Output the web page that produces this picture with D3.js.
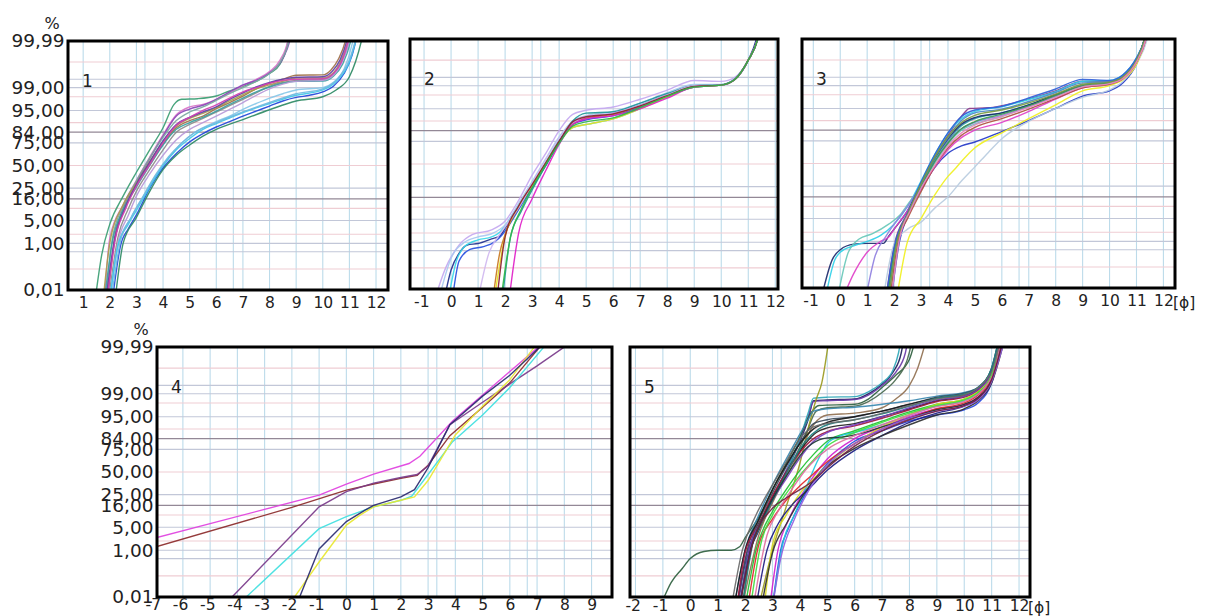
<!DOCTYPE html>
<html><head><meta charset="utf-8">
<script src="https://cdn.jsdelivr.net/npm/d3@7"></script>
<style>
body{margin:0;background:#fff}
svg{display:block}
text{font-family:"DejaVu Sans",Verdana,sans-serif;fill:#222}
</style>
</head><body>
<svg id="c" width="1206" height="616"></svg>
<script>
// ---------------- DATA ----------------
// y axis (probability scale, %)
const yTickPcts   = [99.99, 99, 95, 84, 75, 50, 25, 16, 5, 1, 0.01];
const yTickLabels = ["99,99","99,00","95,00","84,00","75,00","50,00","25,00","16,00","5,00","1,00","0,01"];
const hGridPcts   = [0.1, 0.5, 1, 2, 5, 10, 16, 25, 50, 75, 84, 90, 95, 98, 99, 99.5, 99.9];
const vGridExtraPhi = [3.32, 6.64];

const p1Ticks = [1,2,3,4,5,6,7,8,9,10,11,12];
const p2Ticks = [-1,0,1,2,3,4,5,6,7,8,9,10,11,12];
const p3Ticks = [-1,0,1,2,3,4,5,6,7,8,9,10,11,12];
const p4Ticks = [-7,-6,-5,-4,-3,-2,-1,0,1,2,3,4,5,6,7,8,9];
const p5Ticks = [-2,-1,0,1,2,3,4,5,6,7,8,9,10,11,12];
const panelNames = ["1","2","3","4","5"];

// curves: [phi, cumulative %]
const p1Curves = [
 [[1.45,0.003],[1.7,0.4],[2,4],[2.5,18],[3,42],[3.5,68],[4,87],[4.4,96.5],[4.7,97.6],[5.3,97.7],[6,98.1],[6.5,98.7],[7,99.1],[7.5,99.4],[8,99.7],[8.4,99.88],[8.65,99.98],[8.8,99.999]],
 [[1.8,0.003],[2,1.5],[2.5,12],[3,33],[3.5,60],[4,82],[4.5,93.5],[5,96],[5.5,96.6],[6,97.6],[6.5,98.5],[7,99.15],[7.5,99.5],[8,99.75],[8.4,99.92],[8.7,99.992],[8.8,99.999]],
 [[1.9,0.003],[2.2,2],[2.5,10],[3,31],[3.5,58],[4,81],[4.5,93],[5,95.4],[5.5,96.4],[6,97.6],[6.5,98.6],[7,99.2],[7.5,99.45],[8,99.72],[8.5,99.93],[8.8,99.994],[8.9,99.999]],
 [[1.85,0.003],[2.1,1.5],[2.5,11],[3,32],[3.5,59],[4,80],[4.5,91],[5,94.5],[5.5,96],[6,97.4],[6.5,98.4],[7,99.0],[7.5,99.4],[8,99.7],[8.4,99.9],[8.75,99.993],[8.85,99.999]],
 [[1.9,0.003],[2.2,1.5],[2.6,12],[3,28],[3.5,52],[4,74],[4.5,87],[5,91],[5.5,93],[6,95.5],[6.5,97],[7,98.1],[7.5,98.9],[8,99.3],[8.5,99.5],[9,99.65],[10,99.66],[10.3,99.78],[10.6,99.93],[10.85,99.99],[11,99.999]],
 [[1.75,0.003],[2,1],[2.5,12],[3,30],[3.5,55],[4,76],[4.5,88],[5,92],[5.5,94],[6,95.8],[6.5,97.3],[7,98.3],[7.5,98.9],[8,99.2],[8.5,99.4],[9,99.55],[10,99.55],[10.4,99.72],[10.7,99.92],[10.95,99.99],[11.1,99.999]],
 [[1.95,0.003],[2.3,1.5],[2.7,10],[3,22],[3.5,45],[4,68],[4.5,84],[5,89],[5.5,92],[6,94.5],[6.5,96.3],[7,97.6],[7.5,98.5],[8,99.1],[8.5,99.35],[9,99.45],[10,99.48],[10.4,99.68],[10.7,99.9],[11,99.99],[11.15,99.999]],
 [[1.8,0.003],[2.1,1.2],[2.5,9],[3,26],[3.5,50],[4,73],[4.5,86],[5,90],[5.5,92.5],[6,94.8],[6.5,96.6],[7,97.8],[7.5,98.6],[8,99.05],[8.5,99.3],[9,99.4],[10,99.42],[10.4,99.62],[10.75,99.88],[11.05,99.99],[11.2,99.999]],
 [[2.0,0.003],[2.3,1],[2.7,7],[3,18],[3.5,40],[4,62],[4.5,78],[5,86],[5.5,90],[6,93],[6.5,95.3],[7,97],[7.5,98.2],[8,98.9],[8.5,99.25],[9,99.4],[10,99.45],[10.4,99.65],[10.7,99.88],[11,99.99],[11.15,99.999]],
 [[2.0,0.003],[2.3,0.8],[2.8,6],[3.2,16],[3.7,36],[4.2,58],[4.7,75],[5.2,84],[6,90.5],[6.5,93],[7,95.3],[7.5,96.8],[8,97.8],[8.5,98.4],[9,98.8],[10,99.0],[10.4,99.35],[10.8,99.8],[11.1,99.985],[11.25,99.999]],
 [[1.85,0.003],[2.2,1.6],[2.6,11],[3,29],[3.5,54],[4,77],[4.5,89],[5,92.5],[5.5,94.5],[6,96],[6.5,97.6],[7,98.5],[7.5,99.05],[8,99.35],[8.5,99.5],[9,99.58],[10,99.6],[10.35,99.75],[10.65,99.92],[10.9,99.99],[11.05,99.999]],
 [[1.9,0.003],[2.2,1.3],[2.6,10],[3,27],[3.5,51],[4,75],[4.5,88.5],[5,92.5],[5.5,95],[6,96.5],[6.5,97.8],[7,98.6],[7.5,99.0],[8,99.3],[8.5,99.45],[9,99.5],[10,99.52],[10.4,99.7],[10.7,99.9],[10.95,99.99],[11.1,99.999]],
 [[2.1,0.003],[2.4,0.8],[2.7,3],[3,7],[3.5,25],[4,47],[4.5,64],[5,76],[5.5,83],[6,87.5],[6.5,90.5],[7,93],[7.5,94.8],[8,96.2],[8.5,97.3],[9,97.9],[9.5,98.2],[10,98.6],[10.4,99.1],[10.8,99.7],[11.1,99.95],[11.35,99.998]],
 [[2.0,0.003],[2.3,0.8],[2.7,4],[3,9],[3.5,26],[4,50],[4.5,68],[5,79],[5.5,86],[6,89.5],[6.5,92.2],[7,94.3],[8,96.8],[9,98.2],[10,98.8],[10.5,99.4],[11,99.9],[11.3,99.995]],
 [[2.2,0.003],[2.5,1],[3,6],[3.5,22],[4,45],[4.5,62],[5,73],[5.5,81],[6,86],[7,91.5],[8,95.2],[9,97.3],[10,98],[10.5,98.8],[11,99.6],[11.45,99.99],[11.6,99.999]],
 [[2.05,0.003],[2.4,1.2],[2.8,6],[3.2,16],[3.7,38],[4.2,60],[4.7,75],[5.2,84],[6,90],[7,94.5],[8,97],[9,98.4],[10,98.9],[10.5,99.45],[11,99.92],[11.3,99.996]]
];
const p1Colors = ["#3a9d72","#d874c8","#8a48b8","#7aa8a0","#a0704a","#a8a048","#8c8c8c","#3aa0a0","#b898d8","#88c8e8","#6040a8","#d040b0","#1f45d8","#40c8e8","#2e8a64","#70b8e0"];

const p2Curves = [
 [[-0.25,0.003],[0,0.08],[0.3,0.4],[0.6,0.8],[1,0.9],[1.5,1.3],[1.8,1.6],[2,2.8],[2.5,10],[3,25],[3.5,48],[4,74],[4.5,88.5],[5,91.5],[5.5,92.5],[6,93.5],[7,96],[8,98],[9,99],[10,99.05],[10.5,99.4],[11,99.9],[11.3,99.99],[11.45,99.999]],
 [[-0.1,0.003],[0.2,0.2],[0.5,0.7],[1,1.2],[1.5,1.5],[1.8,2.1],[2,3.3],[2.5,11],[3,27],[3.5,52],[4,76],[4.5,86],[5,88],[6,91],[7,95],[8,97.8],[9,98.9],[10,99.05],[10.5,99.4],[11,99.9],[11.35,99.99],[11.5,99.999]],
 [[-0.6,0.003],[-0.2,0.1],[0.3,0.8],[0.8,1.8],[1.5,2.5],[2,4.5],[2.5,14],[3,37],[3.5,62],[4,84],[4.5,93],[5,94.5],[6,95.5],[7,97.3],[8,98.6],[9,99.35],[10,99.3],[10.5,99.5],[11,99.9],[11.35,99.99],[11.5,99.999]],
 [[-0.45,0.003],[0,0.25],[0.5,1],[1,1.5],[1.5,1.9],[2,3.5],[2.5,12],[3,30],[3.5,56],[4,79],[4.5,90],[5,92.5],[6,94],[7,96.5],[8,98.3],[9,99.1],[10,99.1],[10.5,99.45],[11,99.9],[11.35,99.99],[11.5,99.999]],
 [[0.05,0.003],[0.3,0.2],[0.7,0.55],[1.2,0.7],[1.6,1.0],[1.9,1.8],[2.2,4],[2.6,11],[3,24],[3.5,49],[4,75],[4.5,88],[5,90.5],[6,92.5],[7,95.5],[8,97.7],[9,98.9],[10,99.05],[10.5,99.4],[11,99.9],[11.35,99.99],[11.5,99.999]],
 [[1.55,0.003],[1.8,0.4],[2,1.8],[2.5,10],[3,27],[3.5,51],[4,75],[4.5,88],[5,91.5],[6,93],[7,95.8],[8,97.9],[9,98.95],[10,99.05],[10.5,99.4],[11,99.9],[11.35,99.99],[11.5,99.999]],
 [[1.6,0.003],[2,1.6],[2.5,10],[3,26],[3.5,50],[4,74],[4.5,86],[5,88],[6,91],[7,95],[8,97.7],[9,98.9],[10,99.05],[10.5,99.4],[11,99.9],[11.35,99.99],[11.5,99.999]],
 [[2.15,0.003],[2.5,2],[3,15],[3.5,42],[4,72],[4.5,88],[5,91],[6,92.5],[7,95],[8,97.5],[9,98.9],[10,99.05],[10.5,99.4],[11,99.9],[11.35,99.99],[11.5,99.999]],
 [[1.9,0.003],[2.2,1.5],[2.6,8],[3,22],[3.5,48],[4,74],[4.5,90],[5,93.5],[6,94],[7,96.5],[8,98.2],[9,99.0],[10,99.08],[10.5,99.42],[11,99.9],[11.35,99.99],[11.5,99.999]],
 [[1.0,0.003],[1.4,0.4],[1.8,1.8],[2.2,5],[2.6,12],[3,28],[3.5,55],[4,78],[4.5,89],[5,92],[6,93.5],[7,96],[8,98],[9,99],[10,99.05],[10.5,99.4],[11,99.9],[11.35,99.99],[11.5,99.999]],
 [[1.7,0.003],[2,1.5],[2.5,10.5],[3,27],[3.5,51],[4,75],[4.5,89.5],[5,92],[6,93.2],[7,95.8],[8,97.9],[9,98.95],[10,99.05],[10.5,99.4],[11,99.9],[11.35,99.99],[11.5,99.999]],
 [[1.85,0.003],[2.2,1.5],[2.6,9],[3,24],[3.5,49],[4,73],[4.5,87],[5,89.5],[6,91.5],[7,95.3],[8,97.8],[9,98.9],[10,99.05],[10.5,99.4],[11,99.9],[11.35,99.99],[11.5,99.999]]
];
const p2Colors = ["#22318f","#38d8e8","#c4a8f0","#a8c8f0","#2850e0","#c87820","#e8e020","#e020c8","#209898","#d0b8f0","#8a2030","#30b848"];

const p3Curves = [
 [[1.75,0.003],[2,0.5],[2.5,5.5],[3,25],[3.5,54],[4,75],[4.5,87],[5,91],[6,93.5],[7,96],[8,97.8],[9,99],[10,99.2],[10.5,99.5],[11,99.9],[11.3,99.99],[11.45,99.999]],
 [[1.7,0.003],[2,0.7],[2.5,7],[3,28],[3.5,58],[4,80],[4.5,92],[4.8,95],[5.5,95.2],[6,95.8],[7,97.3],[8,98.5],[9,99.3],[10,99.3],[10.5,99.55],[11,99.9],[11.3,99.99],[11.45,99.999]],
 [[1.9,0.003],[2.2,1],[2.5,6],[3,22],[3.5,45],[4,62],[4.5,70],[5,74],[6,83],[7,90],[8,95],[9,97.8],[10,98.5],[10.5,99.2],[11,99.85],[11.35,99.99],[11.5,99.999]],
 [[1.6,0.003],[2,0.8],[2.5,2.5],[3,4],[3.5,9],[4,16],[4.5,30],[5,46],[5.5,63],[6,77],[7,89.6],[8,95],[9,97.6],[10,98.6],[10.5,99.3],[11,99.85],[11.4,99.99],[11.55,99.999]],
 [[2.1,0.003],[2.5,1],[3,5],[3.5,17],[4,35],[4.3,45],[4.6,56],[5,68],[6,82],[7,91],[8,96],[9,98.5],[10,99],[10.5,99.4],[11,99.85],[11.35,99.99],[11.5,99.999]],
 [[-0.7,0.003],[-0.3,0.2],[0,0.5],[0.5,0.8],[1,0.85],[1.6,0.85],[1.8,1.5],[2,2.5],[2.5,8],[3,27],[3.5,56],[4,77],[4.5,88],[5,91.5],[6,93.5],[7,96],[8,98],[9,99],[10,99.2],[10.5,99.5],[11,99.9],[11.3,99.99],[11.45,99.999]],
 [[-0.55,0.003],[-0.2,0.2],[0,0.4],[0.5,0.7],[1,1.0],[1.5,1.6],[2,3.5],[2.5,10],[3,30],[3.5,60],[4,82],[4.5,91],[5,94],[6,95.5],[7,97.2],[8,98.4],[9,99.3],[10,99.35],[10.5,99.6],[11,99.92],[11.3,99.99],[11.45,99.999]],
 [[-0.1,0.003],[0.3,0.4],[0.7,1.2],[1.2,1.8],[1.8,3.5],[2.2,6],[2.5,11],[3,25],[3.5,50],[4,72],[4.5,84],[5,88],[6,92],[7,95.5],[8,97.7],[9,98.9],[10,99.15],[10.5,99.45],[11,99.88],[11.35,99.99],[11.5,99.999]],
 [[0.1,0.003],[0.5,0.05],[1,0.4],[1.5,1],[1.8,1.4],[2,2.5],[2.5,8],[3,22],[3.5,45],[4,66],[4.5,78],[5,84],[6,89],[7,94],[8,97.3],[9,98.8],[10,99.15],[10.5,99.45],[11,99.88],[11.35,99.99],[11.5,99.999]],
 [[0.95,0.003],[1.3,0.3],[1.7,1.5],[2,3.5],[2.5,10],[3,26],[3.5,52],[4,74],[4.5,85],[5,89],[6,92.5],[7,95.6],[8,97.8],[9,99],[10,99.2],[10.5,99.5],[11,99.9],[11.3,99.99],[11.45,99.999]],
 [[1.8,0.003],[2.1,1],[2.5,6],[3,26],[3.5,56],[4,78],[4.5,90],[5,93.5],[6,94.8],[7,96.8],[8,98.3],[9,99.2],[10,99.25],[10.5,99.55],[11,99.9],[11.3,99.99],[11.45,99.999]],
 [[1.75,0.003],[2.05,0.8],[2.5,6],[3,24],[3.5,52],[4,73],[4.5,85],[5,89.5],[6,93],[7,95.8],[8,97.9],[9,99],[10,99.2],[10.5,99.5],[11,99.9],[11.3,99.99],[11.45,99.999]],
 [[1.85,0.003],[2.15,1],[2.5,5],[3,20],[3.5,46],[4,68],[4.5,80],[5,86],[6,91],[7,94.8],[8,97.4],[9,98.8],[10,99.1],[10.5,99.45],[11,99.88],[11.35,99.99],[11.5,99.999]],
 [[1.7,0.003],[2,0.6],[2.5,7],[3,29],[3.5,60],[4,82],[4.5,92],[5,94.5],[6,95.6],[7,97.5],[8,98.7],[9,99.4],[10,99.35],[10.5,99.6],[11,99.92],[11.3,99.99],[11.45,99.999]],
 [[1.8,0.003],[2.1,0.9],[2.5,6.5],[3,27],[3.5,57],[4,79],[4.5,89],[5,92.5],[6,94.5],[7,96.5],[8,98.1],[9,99.1],[10,99.25],[10.5,99.52],[11,99.9],[11.3,99.99],[11.45,99.999]],
 [[1.9,0.003],[2.2,1.2],[2.6,8],[3,23],[3.5,47],[4,70],[4.5,82],[5,87.5],[6,92],[7,95.3],[8,97.6],[9,98.9],[10,99.15],[10.5,99.45],[11,99.88],[11.35,99.99],[11.5,99.999]]
];
const p3Colors = ["#2aa0a8","#8a3a8a","#2438c8","#b8cce0","#f0f020","#1c2a6c","#30d0e8","#68c8b8","#e040c8","#9080e0","#4a88c8","#3a9a50","#b05040","#3060d8","#7a9a40","#e888c0"];

const p4Curves = [
 [[-7,2.5],[-1,24.6],[0,36],[1,47.5],[2.3,60],[2.7,68],[3.9,93.5],[5,98.9],[6,99.86],[7.05,99.99],[7.2,99.997]],
 [[-7,1.3],[-2,14.6],[0,29.5],[1,36],[2,42.5],[2.6,46],[3,58],[3.8,86],[5,97.3],[6,99.6],[7.1,99.99],[7.25,99.997]],
 [[-4.4,0.005],[-1,15],[0,28],[1,37],[2,43.5],[2.6,47],[3,57],[3.8,92],[5,98.1],[6,99.56],[7,99.92],[8,99.99],[8.2,99.997]],
 [[-3.9,0.005],[-1,4.6],[0,9.2],[1,15],[2,20],[2.4,23.6],[3,47],[3.9,81.7],[5,95.5],[6,99.4],[7.25,99.99],[7.4,99.997]],
 [[-2.05,0.005],[-1,0.37],[0,5.7],[0.5,10],[1,15],[2,20],[2.5,23],[3,40],[4,86.5],[5,97.5],[6,99.7],[6.9,99.99],[7.05,99.997]],
 [[-1.8,0.005],[-1,1.1],[0,7],[0.7,13],[1,16],[2,23],[2.5,30],[3,55],[3.8,92],[5,98.8],[6,99.8],[7.1,99.99],[7.25,99.997]]
];
const p4Colors = ["#e040e0","#8b2a2a","#7a3a8a","#40e0e0","#e8e830","#2a2a70"];

const p5Curves = [
 [[1.7,0.003],[2,0.3],[2.5,4],[3,20],[3.5,50],[4,82],[4.3,94],[4.5,98.3],[5,98.4],[6,98.5],[6.5,99],[7,99.55],[7.4,99.85],[7.7,99.98],[7.85,99.999]],
 [[1.75,0.003],[2,0.4],[2.5,5],[3,22],[3.5,52],[4,83],[4.3,95],[4.5,98.2],[5,98.3],[6,98.45],[6.5,98.9],[7,99.5],[7.5,99.85],[7.85,99.98],[8,99.999]],
 [[1.8,0.003],[2.1,0.6],[2.5,4.5],[3,21],[3.5,50],[4,84],[4.3,96],[4.5,98.6],[5,98.7],[6,98.75],[6.5,99.15],[7,99.6],[7.4,99.88],[7.6,99.98],[7.75,99.999]],
 [[-1.1,0.003],[-0.7,0.05],[-0.3,0.2],[0,0.5],[0.5,0.9],[1,1],[1.5,1],[1.8,1.3],[2,2.5],[2.5,9],[3,30],[3.5,60],[4,85],[4.4,96],[4.7,97.6],[6,97.8],[6.5,98.5],[7,99.4],[7.5,99.8],[8,99.96],[8.2,99.995]],
 [[1.9,0.003],[2.2,1],[2.7,8],[3.2,30],[3.7,60],[4.2,86],[4.6,96.5],[5,97.2],[6,97.5],[6.5,98.2],[7,99.1],[7.5,99.7],[7.9,99.95],[8.1,99.995]],
 [[2.5,0.003],[3,1],[3.5,15],[4,60],[4.3,90],[4.6,98.5],[4.8,99.6],[5.05,99.995]],
 [[1.9,0.003],[2.5,3],[3,18],[3.5,45],[4,72],[4.5,92],[5,95.5],[6,96],[7,97.2],[7.5,98.5],[8,99.5],[8.3,99.9],[8.6,99.995]],
 [[1.6,0.003],[2,1],[2.5,10],[3,35],[3.5,65],[4,87],[4.3,94],[4.5,96.5],[5,97],[6,97.3],[7,97.8],[8,98.3],[9,98.8],[10,99.1],[10.5,99.4],[11,99.9],[11.2,99.99],[11.35,99.999]],
 [[1.7,0.003],[2.1,1.2],[2.6,10],[3.1,32],[3.6,62],[4.1,84],[4.5,92.5],[5,94],[6,95],[7,96.5],[8,97.8],[9,98.7],[10,99.05],[10.5,99.4],[11,99.9],[11.2,99.99],[11.35,99.999]],
 [[1.8,0.003],[2.2,1.5],[2.7,11],[3.2,33],[3.7,60],[4.2,80],[4.6,88],[5,90.5],[6,92.5],[7,95],[8,97],[9,98.3],[10,98.8],[10.5,99.3],[11,99.85],[11.25,99.99],[11.4,99.999]],
 [[1.6,0.003],[2,1],[2.5,8],[3,30],[3.5,58],[4,80],[4.5,90],[5,93],[6,95],[7,96.5],[8,97.8],[9,98.6],[10,98.9],[10.5,99.3],[11,99.85],[11.2,99.98],[11.3,99.999]],
 [[1.7,0.003],[2,0.8],[2.5,6],[3,24],[3.5,50],[4,72],[4.5,84],[5,88.5],[6,91.5],[7,94.5],[8,96.8],[9,98.2],[10,98.7],[10.5,99.2],[11,99.8],[11.3,99.995]],
 [[2.0,0.003],[2.4,1],[3,12],[3.5,30],[4,52],[4.5,70],[5,82],[6,89],[7,93.5],[8,96.3],[9,97.8],[10,98.5],[10.5,99.1],[11,99.8],[11.3,99.99]],
 [[3.0,0.003],[3.3,1],[3.6,5],[4,17],[4.5,40],[5,60],[5.5,73],[6,82],[7,89],[8,93.5],[9,95.5],[10,96.8],[10.5,98],[11,99.6],[11.35,99.99]],
 [[2.9,0.003],[3.2,1],[3.6,8],[4,22],[4.5,45],[5,65],[6,84],[7,91],[8,95],[9,97],[10,97.8],[10.5,98.7],[11,99.7],[11.3,99.99]],
 [[3.0,0.003],[3.4,2],[3.8,10],[4.2,30],[4.6,60],[5,80],[5.5,86],[6,88],[7,92],[8,95.5],[9,97.5],[10,98.3],[10.5,99],[11,99.8],[11.3,99.995]],
 [[2.7,0.003],[3,1.5],[3.5,10],[4,26],[4.5,42],[5,58],[6,80],[7,91],[8,95.6],[9,97.8],[10,98.5],[11,99.8],[11.3,99.99]],
 [[2.4,0.003],[2.8,1],[3.2,6],[3.7,16],[4.3,30],[5,52],[6,74],[7,86],[8,93],[9,96],[10,97.5],[10.5,98.5],[11,99.7],[11.35,99.99]],
 [[1.8,0.003],[2.2,1.5],[2.7,9],[3,20],[3.5,42],[4,66],[4.5,82],[5,88],[6,92],[7,95],[8,97.2],[9,98.4],[10,98.8],[10.5,99.3],[11,99.85],[11.25,99.99]],
 [[2.1,0.003],[2.5,1.5],[3,8],[3.5,20],[4,34],[4.5,48],[5,62],[6,80],[7,90],[8,94.5],[9,97],[10,98],[10.5,98.9],[11,99.75],[11.3,99.99]],
 [[1.9,0.003],[2.3,2],[2.8,12],[3.2,30],[3.7,60],[4.2,82],[4.7,90],[5,92],[6,94],[7,95.8],[8,97.5],[9,98.6],[10,99.0],[10.5,99.4],[11,99.9],[11.2,99.99]],
 [[1.5,0.003],[1.9,1],[2.4,10],[3,35],[3.5,62],[4,84],[4.5,91],[5,92.5],[6,94],[7,96],[8,97.6],[9,98.5],[10,98.9],[11,99.85],[11.25,99.99]],
 [[2.6,0.003],[3,0.8],[3.5,6],[4,20],[4.5,40],[5,57],[5.5,68],[6,76],[7,86],[8,92],[9,95.5],[10,97],[10.5,98.3],[11,99.6],[11.4,99.99]],
 [[2.2,0.003],[2.6,2],[3,10],[3.5,26],[4,46],[4.5,64],[5,78],[6,88],[7,93],[8,96],[9,97.6],[10,98.4],[10.5,99.1],[11,99.8],[11.3,99.99]],
 [[1.8,0.003],[2.2,1],[2.7,10],[3.2,30],[3.7,55],[4.2,75],[4.7,83],[5,84.5],[5.5,85],[6,86.5],[7,91],[8,94.5],[9,96.8],[10,97.8],[10.5,98.7],[11,99.7],[11.3,99.99]],
 [[2.3,0.003],[2.8,3],[3.2,12],[3.7,30],[4.2,52],[5,75],[6,86],[7,92],[8,95.5],[9,97.4],[10,98.2],[11,99.75],[11.3,99.99]],
 [[3.0,0.003],[3.3,0.5],[3.8,8],[4.3,28],[5,58],[6,80],[7,90],[8,94.5],[9,96.5],[10,97.5],[10.5,98.4],[11,99.65],[11.4,99.99]],
 [[1.8,0.003],[2.3,2],[3,14],[3.5,22],[4,30],[4.5,40],[5,55],[6,78],[7,89],[8,94],[9,96.5],[10,97.6],[10.5,98.6],[11,99.7],[11.35,99.99]]
];
const p5Colors = ["#1e1e5a","#6a3aa8","#30a8b8","#2f5f3f","#4a6a50","#9a9a20","#907050",
 "#3a88b0","#3a4a5a","#222222",
 "#1a1a1a","#a01840","#20c030","#2848e0","#d020d0","#20c8e0","#d8d820","#1c1c80","#7a40c0","#e02828",
 "#208080","#6a6a6a","#303030","#40e040","#203838","#e070a0","#9060e0","#702040"];

// ---------------- DRAWING ----------------
function probit(p){
  const a=[-3.969683028665376e+01,2.209460984245205e+02,-2.759285104469687e+02,1.383577518672690e+02,-3.066479806614716e+01,2.506628277459239e+00];
  const b=[-5.447609879822406e+01,1.615858368580409e+02,-1.556989798598866e+02,6.680131188771972e+01,-1.328068155288572e+01];
  const c=[-7.784894002430293e-03,-3.223964580411365e-01,-2.400758277161838e+00,-2.549732539343734e+00,4.374664141464968e+00,2.938163982698783e+00];
  const d=[7.784695709041462e-03,3.224671290700398e-01,2.445134137142996e+00,3.754408661907416e+00];
  const pl=0.02425;
  if(p<pl){const q=Math.sqrt(-2*Math.log(p));return (((((c[0]*q+c[1])*q+c[2])*q+c[3])*q+c[4])*q+c[5])/((((d[0]*q+d[1])*q+d[2])*q+d[3])*q+1);}
  if(p<=1-pl){const q=p-0.5,r=q*q;return (((((a[0]*r+a[1])*r+a[2])*r+a[3])*r+a[4])*r+a[5])*q/(((((b[0]*r+b[1])*r+b[2])*r+b[3])*r+b[4])*r+1);}
  const q=Math.sqrt(-2*Math.log(1-p));return -(((((c[0]*q+c[1])*q+c[2])*q+c[3])*q+c[4])*q+c[5])/((((d[0]*q+d[1])*q+d[2])*q+d[3])*q+1);
}

const panels = [
  {x0:68,  x1:388,  y0:41,  y1:290, dom:[0.43,12.45], ticks:p1Ticks, curves:p1Curves, colors:p1Colors, curve:d3.curveMonotoneX, yLab:true,  phi:false, pad:7},
  {x0:410, x1:778,  y0:39,  y1:289, dom:[-1.52,12.1], ticks:p2Ticks, curves:p2Curves, colors:p2Colors, curve:d3.curveMonotoneX, yLab:false, phi:false, pad:7},
  {x0:802, x1:1175, y0:39,  y1:288, dom:[-1.42,12.43],ticks:p3Ticks, curves:p3Curves, colors:p3Colors, curve:d3.curveMonotoneX, yLab:false, phi:true,  pad:7},
  {x0:157, x1:612,  y0:347, y1:597, dom:[-6.95,9.75], ticks:p4Ticks, curves:p4Curves, colors:p4Colors, curve:d3.curveLinear,    yLab:true,  phi:false, pad:2},
  {x0:630, x1:1030, y0:347, y1:597, dom:[-2.2,12.4],  ticks:p5Ticks, curves:p5Curves, colors:p5Colors, curve:d3.curveMonotoneX, yLab:false, phi:true,  pad:3}
];

const darkLines = [16,84];
const pinkLines = [0.1,2,10,50,90,98,99.9];
function hColor(v){ return darkLines.includes(v) ? "#938896" : (pinkLines.includes(v) ? "#efcdd3" : "#c2c7d8"); }

const svg = d3.select("#c");
const zDom = [probit(0.0001), probit(0.9999)];

panels.forEach((p, k) => {
  const x = d3.scaleLinear().domain(p.dom).range([p.x0, p.x1]);
  const zY = d3.scaleLinear().domain(zDom).range([p.y1, p.y0]);
  const y = pct => zY(probit(Math.min(Math.max(pct,1e-6),100-1e-6)/100));
  const g = svg.append("g");

  g.append("clipPath").attr("id","clip"+k).append("rect")
    .attr("x",p.x0).attr("y",p.y0).attr("width",p.x1-p.x0).attr("height",p.y1-p.y0);

  // vertical grid
  const ints = d3.range(Math.ceil(p.dom[0]), Math.floor(p.dom[1])+1);
  const vg = ints.concat(vGridExtraPhi);
  g.append("g").selectAll("line").data(vg).join("line")
    .attr("x1",d=>x(d)).attr("x2",d=>x(d)).attr("y1",p.y0).attr("y2",p.y1)
    .attr("stroke","#bcdbea").attr("stroke-width",1.1);
  // horizontal grid
  g.append("g").selectAll("line").data(hGridPcts).join("line")
    .attr("x1",p.x0).attr("x2",p.x1).attr("y1",d=>y(d)).attr("y2",d=>y(d))
    .attr("stroke",d=>hColor(d)).attr("stroke-width",d=>darkLines.includes(d)?1.3:1.1);

  // curves
  const line = d3.line().x(d=>x(d[0])).y(d=>y(d[1])).curve(p.curve);
  g.append("g").attr("clip-path",`url(#clip${k})`)
    .selectAll("path").data(p.curves).join("path")
    .attr("d",line).attr("fill","none")
    .attr("stroke",(d,i)=>p.colors[i]).attr("stroke-width",1.4).attr("stroke-opacity",0.92);

  // frame
  g.append("rect").attr("x",p.x0).attr("y",p.y0).attr("width",p.x1-p.x0).attr("height",p.y1-p.y0)
    .attr("fill","none").attr("stroke","#000").attr("stroke-width",3);

  // x axis
  const ax = g.append("g").attr("transform",`translate(0,${p.y1})`)
    .call(d3.axisBottom(x).tickValues(p.ticks).tickSize(0).tickPadding(p.pad).tickFormat(d=>String(d)));
  ax.select(".domain").remove();
  ax.attr("font-family",null).attr("font-size",null);
  ax.selectAll("text").style("font-size","15.5px").attr("fill","#222")
    .attr("dx",d=>d<0?"-0.18em":null);

  // y axis
  if (p.yLab) {
    const ay = g.append("g").attr("transform",`translate(${p.x0},0)`)
      .call(d3.axisLeft(zY).tickValues(yTickPcts.map(v=>probit(v/100))).tickSize(0).tickPadding(3.5)
        .tickFormat((d,i)=>yTickLabels[i]));
    ay.select(".domain").remove();
    ay.attr("font-family",null).attr("font-size",null);
    ay.selectAll("text").style("font-size","18.5px").attr("fill","#222");
    g.append("text").attr("x",p.x0-16).attr("y",p.y0-12).attr("text-anchor","middle")
      .style("font-size","16px").text("%");
  }
  if (p.phi) {
    g.append("text").attr("x",p.x1-2).attr("y",p.y1+p.pad+12.5)
      .style("font-size","15.5px").text("[ϕ]");
  }
  // panel number
  g.append("text").attr("x",p.x0+14).attr("y",p.y0+46).style("font-size","17px").text(panelNames[k]);
});
</script>
</body></html>
